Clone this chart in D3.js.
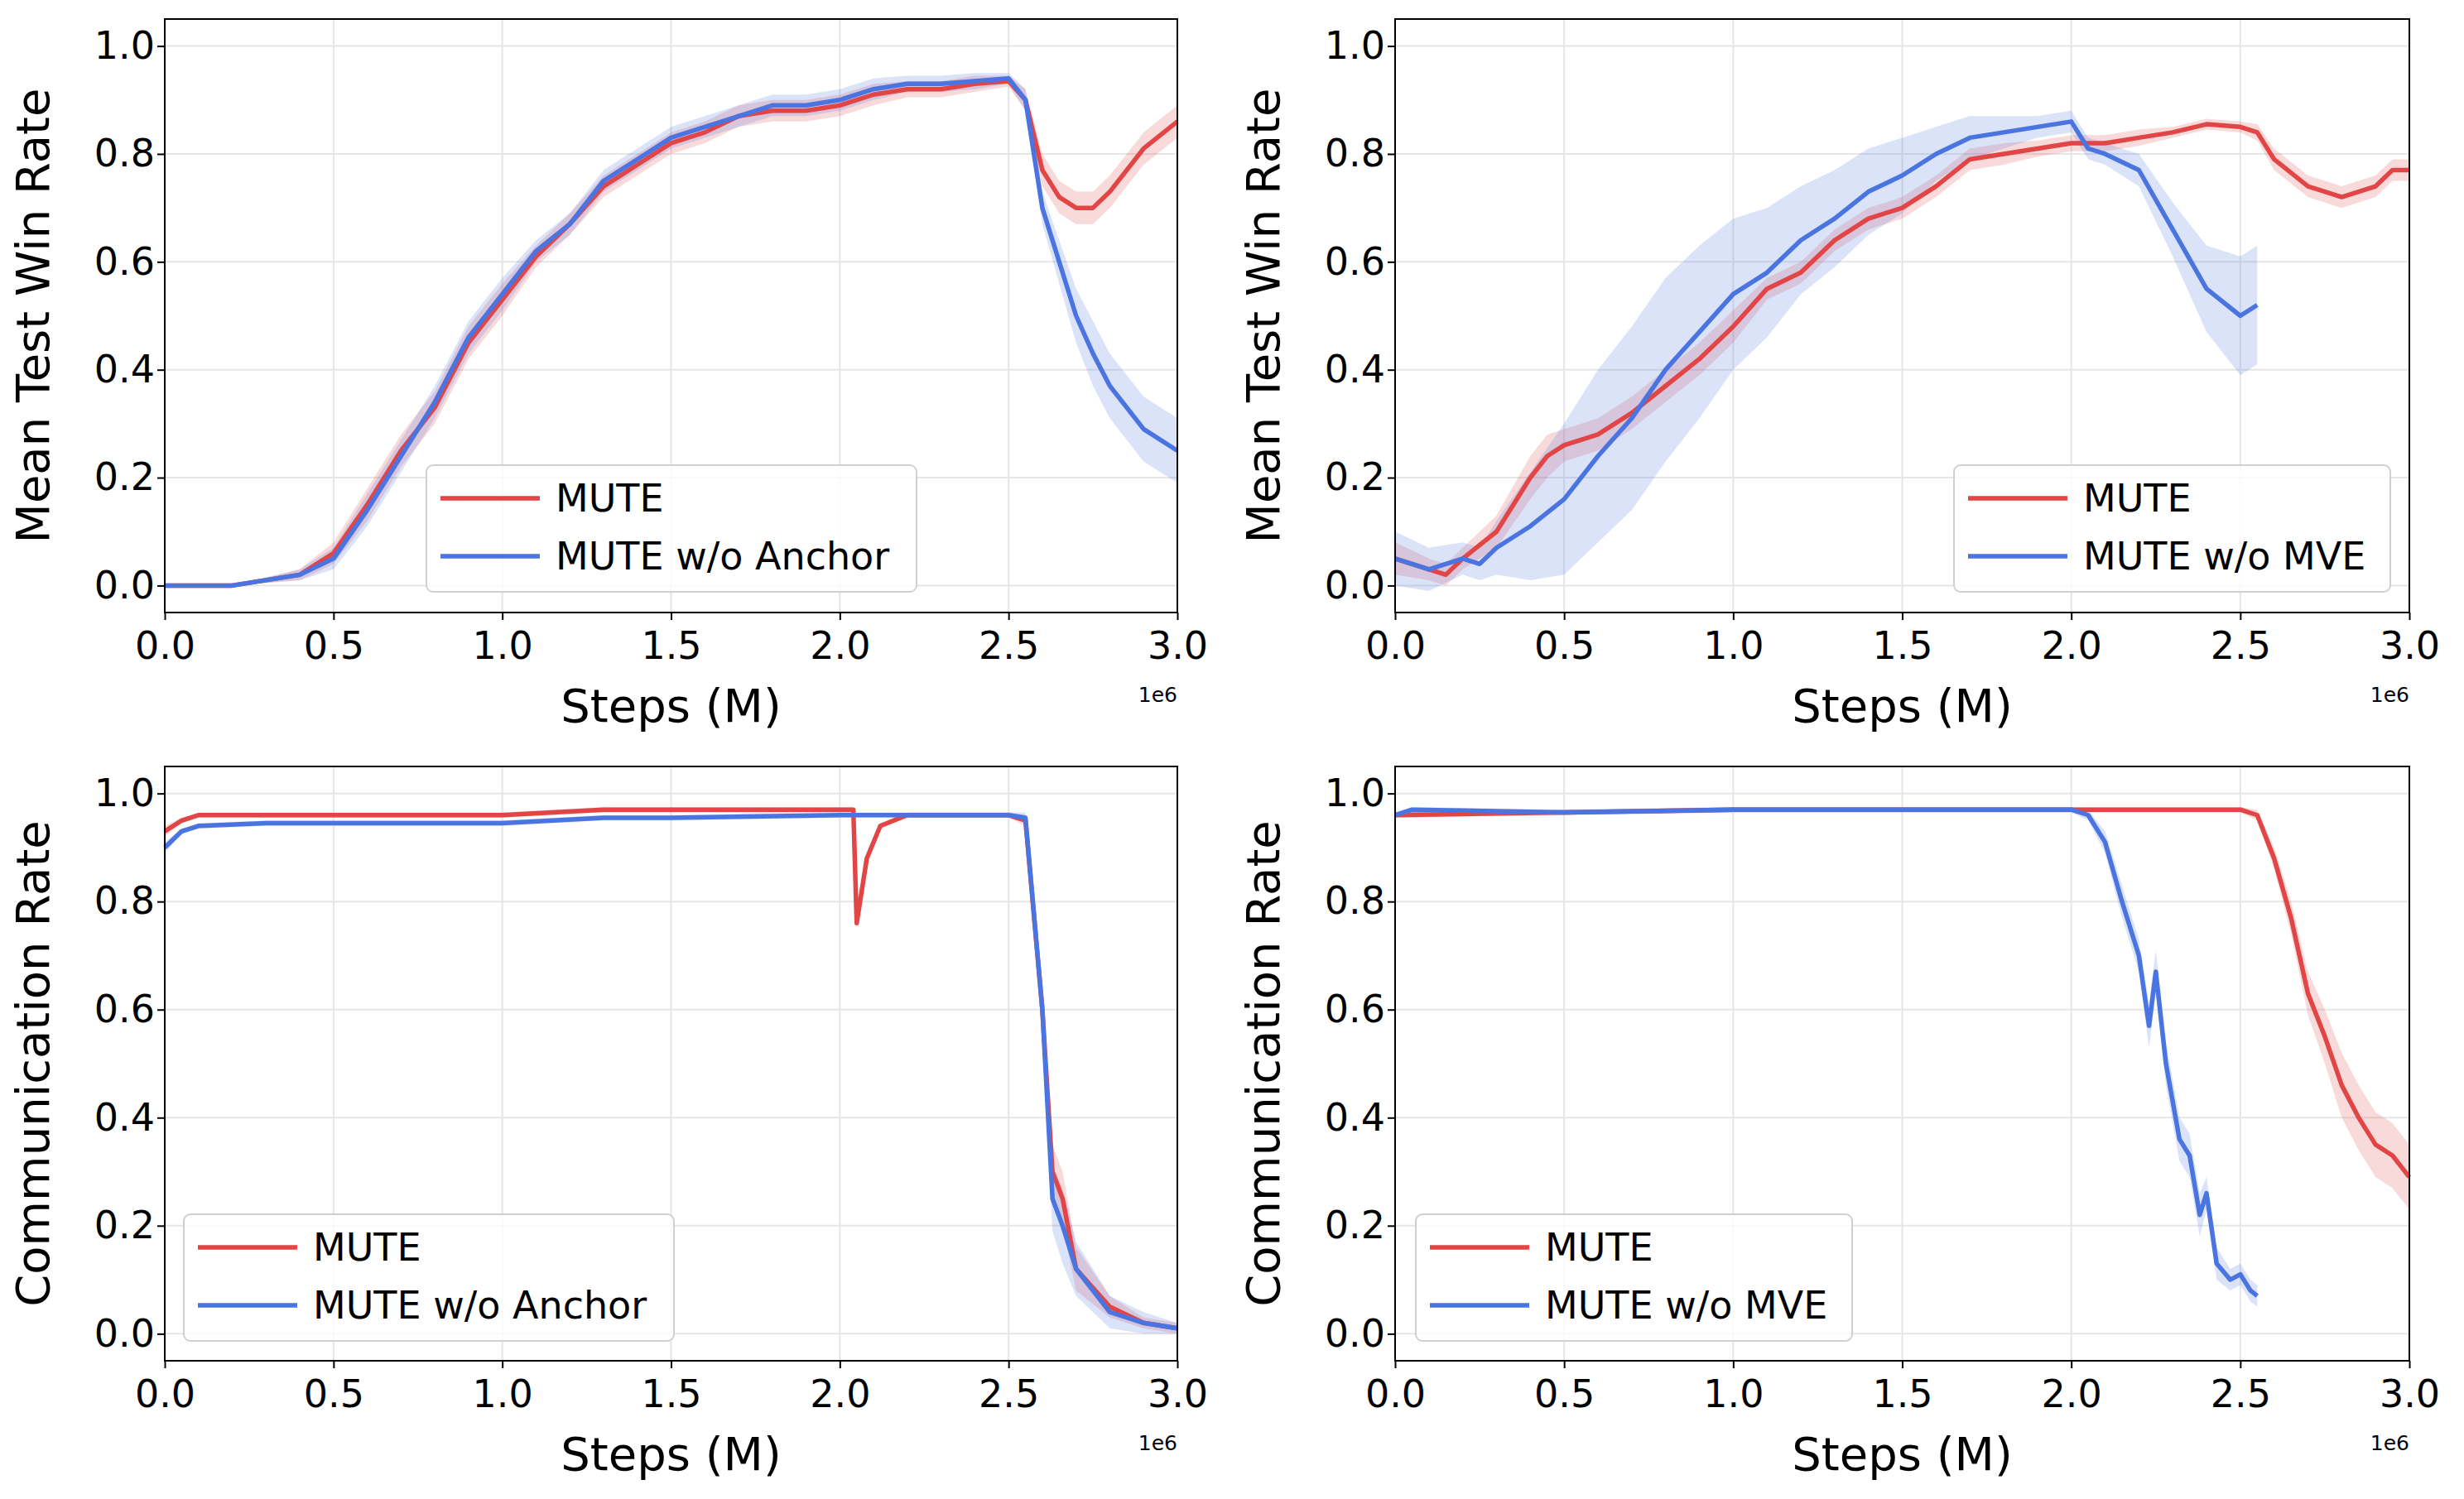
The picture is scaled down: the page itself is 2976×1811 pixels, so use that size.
<!DOCTYPE html>
<html><head><meta charset="utf-8">
<script src="https://cdn.jsdelivr.net/npm/d3@7"></script>
<style>body{margin:0;background:#fff}text{font-family:"DejaVu Sans",sans-serif}</style>
</head><body><svg id="canvas" width="2976" height="1811"></svg>
<script>
// steps (M), means and band half-widths per panel
let winX1=[0,0.1,0.2,0.3,0.4,0.5,0.6,0.7,0.8,0.9,1.0,1.1,1.2,1.3,1.4,1.5,1.6,1.7,1.8,1.9,2.0,2.1,2.2,2.3,2.4,2.5,2.55,2.6,2.65,2.7,2.75,2.8,2.9,3.0];
let winMute1=[0,0,0,0.01,0.02,0.06,0.15,0.25,0.33,0.45,0.53,0.61,0.67,0.74,0.78,0.82,0.84,0.87,0.88,0.88,0.89,0.91,0.92,0.92,0.93,0.935,0.9,0.77,0.72,0.70,0.70,0.73,0.81,0.86];
let winMuteBand1=[0,0,0,0.005,0.01,0.02,0.03,0.03,0.03,0.03,0.03,0.02,0.02,0.02,0.02,0.02,0.02,0.02,0.02,0.02,0.02,0.02,0.015,0.015,0.015,0.01,0.02,0.03,0.03,0.03,0.03,0.03,0.03,0.03];
let winAnchor=[0,0,0,0.01,0.02,0.05,0.14,0.24,0.34,0.46,0.54,0.62,0.67,0.75,0.79,0.83,0.85,0.87,0.89,0.89,0.9,0.92,0.93,0.93,0.935,0.94,0.9,0.7,0.6,0.5,0.43,0.37,0.29,0.25];
let winAnchorBand=[0,0,0,0.005,0.01,0.02,0.03,0.03,0.03,0.03,0.03,0.02,0.02,0.02,0.02,0.02,0.02,0.02,0.02,0.02,0.02,0.02,0.015,0.015,0.015,0.01,0.02,0.03,0.04,0.05,0.06,0.06,0.06,0.06];

let winX2=[0,0.1,0.15,0.2,0.3,0.4,0.45,0.5,0.6,0.7,0.8,0.9,1.0,1.1,1.2,1.3,1.4,1.5,1.6,1.7,1.8,1.9,2.0,2.1,2.2,2.3,2.4,2.5,2.55,2.6,2.7,2.8,2.9,2.95,3.0];
let winMute2=[0.05,0.03,0.02,0.05,0.1,0.2,0.24,0.26,0.28,0.32,0.37,0.42,0.48,0.55,0.58,0.64,0.68,0.7,0.74,0.79,0.8,0.81,0.82,0.82,0.83,0.84,0.855,0.85,0.84,0.79,0.74,0.72,0.74,0.77,0.77];
let winMuteBand2=[0.03,0.02,0.02,0.02,0.03,0.04,0.04,0.03,0.03,0.03,0.03,0.03,0.03,0.02,0.02,0.02,0.02,0.02,0.02,0.02,0.02,0.015,0.015,0.015,0.015,0.01,0.01,0.01,0.015,0.02,0.02,0.02,0.02,0.02,0.02];
let mveX=[0,0.1,0.2,0.25,0.3,0.4,0.5,0.6,0.7,0.8,0.9,1.0,1.1,1.2,1.3,1.4,1.5,1.6,1.7,1.8,1.9,2.0,2.05,2.1,2.2,2.3,2.4,2.5,2.55];
let winMve=[0.05,0.03,0.05,0.04,0.07,0.11,0.16,0.24,0.31,0.4,0.47,0.54,0.58,0.64,0.68,0.73,0.76,0.8,0.83,0.84,0.85,0.86,0.81,0.8,0.77,0.66,0.55,0.5,0.52];
let winMveBand=[0.05,0.04,0.03,0.03,0.05,0.1,0.14,0.16,0.17,0.17,0.16,0.14,0.12,0.1,0.09,0.08,0.07,0.05,0.04,0.03,0.02,0.02,0.02,0.02,0.03,0.05,0.08,0.11,0.11];

let commX1=[0,0.05,0.1,0.3,0.5,1.0,1.3,1.5,2.0,2.04,2.05,2.08,2.12,2.2,2.5,2.55,2.6,2.63,2.66,2.7,2.8,2.9,3.0];
let commMute1=[0.93,0.95,0.96,0.96,0.96,0.96,0.97,0.97,0.97,0.97,0.76,0.88,0.94,0.96,0.96,0.95,0.6,0.3,0.25,0.12,0.05,0.02,0.01];
let commMuteBand1=[0.01,0.005,0.005,0.005,0.005,0.005,0.005,0.005,0.005,0.005,0.01,0.01,0.005,0.005,0.005,0.01,0.04,0.05,0.05,0.04,0.02,0.01,0.01];
let commAnchor=[0.9,0.93,0.94,0.945,0.945,0.945,0.955,0.955,0.96,0.96,0.96,0.96,0.96,0.96,0.96,0.955,0.6,0.25,0.2,0.12,0.04,0.02,0.01];
let commAnchorBand=[0.01,0.005,0.005,0.005,0.005,0.005,0.005,0.005,0.005,0.005,0.005,0.005,0.005,0.005,0.005,0.01,0.05,0.06,0.07,0.05,0.03,0.02,0.01];

let commX2=[0,0.5,1.0,1.5,2.0,2.5,2.55,2.6,2.65,2.7,2.75,2.8,2.85,2.9,2.95,3.0];
let commMute2=[0.96,0.965,0.97,0.97,0.97,0.97,0.96,0.88,0.77,0.63,0.55,0.46,0.4,0.35,0.33,0.29];
let commMuteBand2=[0.005,0.005,0.005,0.005,0.005,0.005,0.01,0.02,0.03,0.04,0.05,0.06,0.06,0.06,0.06,0.06];
let mveX2=[0,0.05,0.5,1.0,1.5,2.0,2.05,2.1,2.15,2.2,2.23,2.25,2.28,2.32,2.35,2.38,2.4,2.43,2.47,2.5,2.53,2.55];
let commMve=[0.96,0.97,0.965,0.97,0.97,0.97,0.96,0.91,0.8,0.7,0.57,0.67,0.5,0.36,0.33,0.22,0.26,0.13,0.1,0.11,0.08,0.07];
let commMveBand=[0.005,0.005,0.005,0.005,0.005,0.005,0.01,0.02,0.03,0.03,0.04,0.04,0.04,0.04,0.04,0.04,0.03,0.03,0.02,0.02,0.02,0.02];

let xTicks=[0,0.5,1.0,1.5,2.0,2.5,3.0];
let yTicks=[0,0.2,0.4,0.6,0.8,1.0];
const RED="#e24545", BLUE="#4a74e0";

let panels=[
 {x0:199,x1:1422,y0:23,y1:740,ylab:"Mean Test Win Rate",leg:[515,562,592],
  series:[{x:winX1,y:winMute1,b:winMuteBand1,c:RED,n:"MUTE"},{x:winX1,y:winAnchor,b:winAnchorBand,c:BLUE,n:"MUTE w/o Anchor"}]},
 {x0:1685,x1:2910,y0:23,y1:740,ylab:"Mean Test Win Rate",leg:[2360,562,527],
  series:[{x:winX2,y:winMute2,b:winMuteBand2,c:RED,n:"MUTE"},{x:mveX,y:winMve,b:winMveBand,c:BLUE,n:"MUTE w/o MVE"}]},
 {x0:199,x1:1422,y0:926,y1:1644,ylab:"Communication Rate",leg:[222,1467,592],
  series:[{x:commX1,y:commMute1,b:commMuteBand1,c:RED,n:"MUTE"},{x:commX1,y:commAnchor,b:commAnchorBand,c:BLUE,n:"MUTE w/o Anchor"}]},
 {x0:1685,x1:2910,y0:926,y1:1644,ylab:"Communication Rate",leg:[1710,1467,527],
  series:[{x:commX2,y:commMute2,b:commMuteBand2,c:RED,n:"MUTE"},{x:mveX2,y:commMve,b:commMveBand,c:BLUE,n:"MUTE w/o MVE"}]}
];

let svg=d3.select("#canvas");
panels.forEach(p=>{
  let x=d3.scaleLinear().domain([0,3]).range([p.x0,p.x1]);
  let y=d3.scaleLinear().domain([-0.05,1.05]).range([p.y1,p.y0]);
  let g=svg.append("g");
  g.selectAll(".gx").data(xTicks).enter().append("line")
    .attr("x1",d=>x(d)).attr("x2",d=>x(d)).attr("y1",p.y0).attr("y2",p.y1)
    .attr("stroke","#e6e6e6").attr("stroke-width",2);
  g.selectAll(".gy").data(yTicks).enter().append("line")
    .attr("y1",d=>y(d)).attr("y2",d=>y(d)).attr("x1",p.x0).attr("x2",p.x1)
    .attr("stroke","#e6e6e6").attr("stroke-width",2);
  p.series.forEach(s=>{
    let pts=s.x.map((v,i)=>[v,s.y[i],s.b[i]]);
    g.append("path").datum(pts)
      .attr("d",d3.area().x(d=>x(d[0])).y0(d=>y(d[1]-d[2])).y1(d=>y(d[1]+d[2])))
      .attr("fill",s.c).attr("opacity",0.2);
  });
  p.series.forEach(s=>{
    let pts=s.x.map((v,i)=>[v,s.y[i]]);
    g.append("path").datum(pts)
      .attr("d",d3.line().x(d=>x(d[0])).y(d=>y(d[1])))
      .attr("fill","none").attr("stroke",s.c).attr("stroke-width",5.5).attr("stroke-linejoin","round");
  });
  let ax=g.append("g").attr("transform",`translate(0,${p.y1})`)
    .call(d3.axisBottom(x).tickValues(xTicks).tickFormat(d3.format(".1f")).tickSizeInner(9).tickSizeOuter(0));
  let ay=g.append("g").attr("transform",`translate(${p.x0},0)`)
    .call(d3.axisLeft(y).tickValues(yTicks).tickFormat(d3.format(".1f")).tickSizeInner(9).tickSizeOuter(0));
  [ax,ay].forEach(a=>{
    a.selectAll("text").attr("font-size",46).attr("fill","#000");
    a.selectAll("line").attr("stroke-width",2);
    a.select(".domain").remove();
  });
  ax.selectAll("text").attr("dy","0.95em");
  g.append("rect").attr("x",p.x0).attr("y",p.y0).attr("width",p.x1-p.x0).attr("height",p.y1-p.y0)
    .attr("fill","none").attr("stroke","#000").attr("stroke-width",2);
  g.append("text").attr("x",(p.x0+p.x1)/2).attr("y",p.y1+132).attr("text-anchor","middle")
    .attr("font-size",56).text("Steps (M)");
  g.append("text").attr("transform",`translate(${p.x0-140},${(p.y0+p.y1)/2}) rotate(-90)`)
    .attr("text-anchor","middle").attr("font-size",56).text(p.ylab);
  g.append("text").attr("x",p.x1).attr("y",p.y1+108).attr("text-anchor","end")
    .attr("font-size",25).text("1e6");
  // legend
  let lg=g.append("g").attr("transform",`translate(${p.leg[0]},${p.leg[1]})`);
  lg.append("rect").attr("width",p.leg[2]).attr("height",153).attr("rx",8)
    .attr("fill","#fff").attr("fill-opacity",0.8).attr("stroke","#d0d0d0").attr("stroke-width",2);
  p.series.forEach((s,i)=>{
    lg.append("line").attr("x1",17).attr("x2",137).attr("y1",40+i*70).attr("y2",40+i*70)
      .attr("stroke",s.c).attr("stroke-width",5.5);
    lg.append("text").attr("x",156).attr("y",40+i*70).attr("dy","0.35em")
      .attr("font-size",46).text(s.n);
  });
});
</script></body></html>
